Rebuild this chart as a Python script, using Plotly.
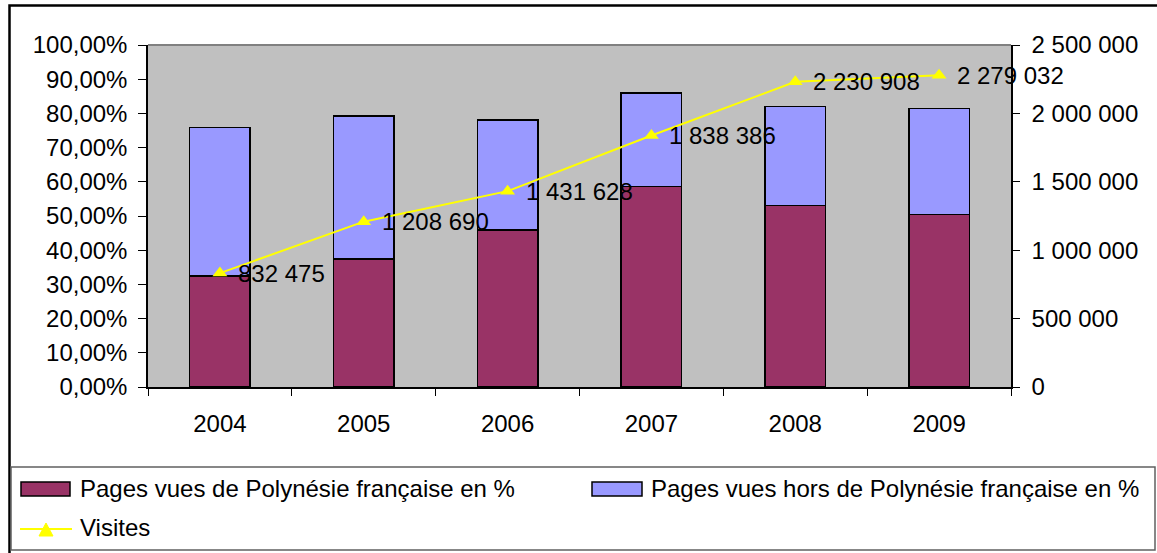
import plotly.graph_objects as go

# Data
years = ["2004", "2005", "2006", "2007", "2008", "2009"]
pct_pf = [0.325, 0.375, 0.459, 0.587, 0.530, 0.504]        # Pages vues de Polynésie française
pct_hors = [0.434, 0.417, 0.322, 0.273, 0.290, 0.311]      # Pages vues hors de Polynésie française
visites = [832475, 1208690, 1431628, 1838386, 2230908, 2279032]

name_pf = "Pages vues de Polynésie française en %"
name_hors = "Pages vues hors de Polynésie française en %"
name_vis = "Visites"

W, H = 1157, 553
ML, MR, MT, MB = 148, 146, 45, 166
PW, PH = W - ML - MR, H - MT - MB

FONT = "Arial, Liberation Sans, sans-serif"
C_PF = "#993366"
C_HORS = "#9999FF"
C_VIS = "#FFFF00"


def px(x):
    """Pixel column -> paper x."""
    return (x - ML) / PW


def py(y):
    """Pixel row -> paper y."""
    return (H - MB - y) / PH


def fmt_fr(v):
    return f"{v:,}".replace(",", " ")


fig = go.Figure()

fig.add_trace(go.Bar(
    x=years, y=pct_pf, name=name_pf,
    marker=dict(color=C_PF, line=dict(color="black", width=1.5)),
))
fig.add_trace(go.Bar(
    x=years, y=pct_hors, name=name_hors,
    marker=dict(color=C_HORS, line=dict(color="black", width=1.5)),
))
fig.add_trace(go.Scatter(
    x=years, y=visites, name=name_vis, yaxis="y2",
    mode="lines+markers",
    line=dict(color=C_VIS, width=2),
    marker=dict(symbol="triangle-up", size=13, color=C_VIS),
    cliponaxis=False,
))

shapes = [
    # outer chart frame
    dict(type="rect", xref="paper", yref="paper",
         x0=px(9.5), x1=px(1170), y0=py(5.5), y1=py(600),
         line=dict(color="black", width=2.5), layer="below"),
    # top edge of the plot area
    dict(type="line", xref="paper", yref="paper",
         x0=0, x1=1, y0=1, y1=1, line=dict(color="#808080", width=2)),
    # legend box
    dict(type="rect", xref="paper", yref="paper",
         x0=px(11), x1=px(1155), y0=py(467), y1=py(550),
         line=dict(color="#606060", width=1.5)),
    # legend swatches
    dict(type="rect", xref="paper", yref="paper",
         x0=px(21), x1=px(70), y0=py(482), y1=py(496),
         fillcolor=C_PF, line=dict(color="black", width=1.5)),
    dict(type="rect", xref="paper", yref="paper",
         x0=px(592), x1=px(642), y0=py(482), y1=py(496),
         fillcolor=C_HORS, line=dict(color="black", width=1.5)),
    dict(type="line", xref="paper", yref="paper",
         x0=px(20), x1=px(72), y0=py(529), y1=py(529),
         line=dict(color=C_VIS, width=2)),
    dict(type="path", xref="paper", yref="paper",
         path=f"M {px(39)} {py(536)} L {px(53)} {py(536)} L {px(46)} {py(523)} Z",
         fillcolor=C_VIS, line=dict(color=C_VIS, width=1)),
]

annotations = [
    dict(text=name_pf, x=px(78), y=py(488), xref="paper", yref="paper",
         xanchor="left", yanchor="middle", showarrow=False,
         font=dict(size=24, color="black", family=FONT)),
    dict(text=name_hors, x=px(649), y=py(488), xref="paper", yref="paper",
         xanchor="left", yanchor="middle", showarrow=False,
         font=dict(size=24, color="black", family=FONT)),
    dict(text=name_vis, x=px(78), y=py(527), xref="paper", yref="paper",
         xanchor="left", yanchor="middle", showarrow=False,
         font=dict(size=24, color="black", family=FONT)),
]

# value labels next to each Visites marker (category index on the x axis)
for i, v in enumerate(visites):
    annotations.append(dict(
        text=fmt_fr(v), x=i, y=v, xref="x", yref="y2",
        xanchor="left", yanchor="middle", xshift=16, showarrow=False,
        font=dict(size=24, color="black", family=FONT),
    ))

fig.update_layout(
    width=W, height=H,
    margin=dict(l=ML, r=MR, t=MT, b=MB, pad=0),
    paper_bgcolor="white", plot_bgcolor="#C0C0C0",
    barmode="stack", bargap=0.58,
    separators=", ",
    showlegend=False,
    font=dict(family=FONT, size=24, color="black"),
    xaxis=dict(
        type="category", categoryorder="array", categoryarray=years,
        range=[-0.5, len(years) - 0.5],
        showgrid=False, showline=True, linecolor="black", linewidth=1.5,
        ticks="outside", tickson="boundaries", ticklen=7, tickcolor="black",
        ticklabelstandoff=14, tickfont=dict(size=24),
    ),
    yaxis=dict(
        range=[0, 1], dtick=0.1, tickformat=".2%", showgrid=False, zeroline=False,
        showline=True, linecolor="black", linewidth=1.5,
        ticks="outside", ticklen=8, tickcolor="black", ticklabelstandoff=6,
        tickfont=dict(size=24),
    ),
    yaxis2=dict(
        overlaying="y", side="right", range=[0, 2500000], dtick=500000,
        tickformat=",d", showgrid=False, zeroline=False,
        showline=True, linecolor="black", linewidth=1.5,
        ticks="outside", ticklen=7, tickcolor="black", ticklabelstandoff=7,
        tickfont=dict(size=24),
    ),
    shapes=shapes,
    annotations=annotations,
)

fig.write_html("out.html")
